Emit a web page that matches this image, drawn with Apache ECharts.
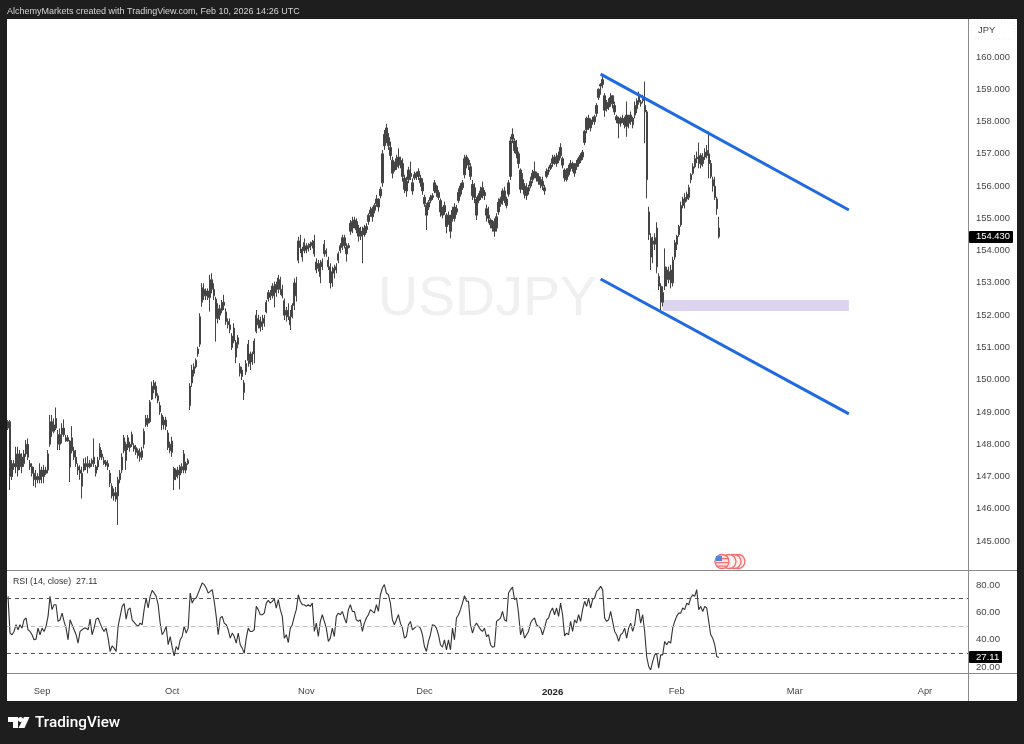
<!DOCTYPE html>
<html><head><meta charset="utf-8">
<style>html,body{margin:0;padding:0;background:#1e1e1e}#c{width:1024px;height:744px}</style>
<script src="https://cdn.jsdelivr.net/npm/echarts@6/dist/echarts.min.js"></script>
</head><body><div id="c"></div>
<script>
const highs=[
148.75,148.75,147.51,147.51,147.92,147.92,147.82,147.72,147.82,148.13,
148.18,147.51,147.41,147.30,147.20,147.10,147.41,147.30,147.36,147.30,
147.82,148.91,148.91,148.80,149.14,148.44,148.49,148.65,148.77,148.29,
148.29,148.13,148.56,147.92,147.82,147.41,147.35,147.30,147.56,147.59,
147.63,147.51,147.56,148.18,147.36,147.61,148.03,147.82,147.61,147.51,
147.51,147.20,146.79,146.63,146.68,146.99,147.20,147.72,148.29,148.08,
148.29,148.08,148.39,148.03,147.98,147.87,147.87,147.92,148.49,148.91,
148.91,149.37,149.94,149.99,149.94,149.58,149.32,148.96,148.85,148.85,
148.44,148.08,148.23,147.30,147.25,147.30,147.36,147.41,147.82,147.46,
147.56,149.89,150.46,150.51,150.66,151.02,152.06,152.99,152.99,152.83,
152.83,153.25,153.30,152.99,152.57,152.37,152.32,152.47,152.63,152.21,
151.90,151.90,151.44,151.75,151.23,151.39,150.51,150.40,149.99,150.61,
151.23,150.87,150.87,151.28,152.16,152.01,151.95,152.01,152.01,152.47,
152.78,152.78,152.99,153.04,153.04,153.25,153.19,152.94,152.52,152.26,
152.37,152.16,152.37,153.14,153.19,154.43,154.49,154.12,154.38,154.23,
154.23,154.28,154.33,154.49,153.76,153.71,153.71,153.76,154.33,154.07,
153.81,153.61,153.50,153.56,153.61,153.97,154.23,154.49,154.49,154.23,
154.23,154.95,155.05,155.05,155.00,154.80,154.74,154.74,154.80,154.85,
155.16,155.36,155.36,155.47,155.73,155.62,155.98,157.12,157.74,157.93,
157.64,157.38,156.91,156.76,156.97,157.17,156.91,156.86,156.35,156.29,
156.60,156.76,156.24,156.45,156.45,156.55,156.35,156.24,155.73,155.47,
155.57,155.73,155.78,156.19,156.04,155.88,155.62,155.36,155.52,155.16,
155.21,155.11,155.36,155.47,155.42,155.93,156.09,156.19,156.97,156.97,
156.86,156.71,156.19,156.09,155.67,155.78,155.98,156.14,155.88,155.42,
155.36,155.00,154.95,155.00,155.16,155.62,155.67,155.93,155.98,155.67,
156.19,157.53,157.79,157.48,157.43,157.07,156.55,156.40,156.09,156.09,
156.04,156.29,156.50,156.76,156.45,156.40,156.29,156.29,156.04,156.55,
156.60,156.71,156.97,156.97,157.02,157.07,157.33,156.91,156.55,156.55,
156.66,156.81,156.76,156.71,156.81,156.91,157.02,157.12,157.74,158.15,
158.21,158.10,158.15,158.21,158.57,159.03,159.19,159.45,158.88,158.67,
158.72,158.88,158.72,158.62,158.21,158.15,158.15,158.21,158.15,158.62,
158.21,158.31,158.15,158.62,158.72,158.93,158.67,158.83,159.24,158.36,
155.36,154.54,154.43,154.54,154.88,153.30,152.99,152.89,154.07,153.50,
153.50,153.56,153.81,154.33,154.49,154.80,155.52,155.67,155.78,155.83,
156.04,156.40,156.71,156.97,157.07,157.35,157.02,157.02,157.17,157.27,
157.69,156.81,156.29,156.29,155.67,155.05];
const lows=[
148.44,146.58,146.89,147.20,147.10,147.00,147.20,147.10,147.30,147.61,
147.51,147.20,147.00,146.70,146.66,146.79,146.79,146.79,146.79,147.05,
147.10,147.92,148.23,148.34,148.44,147.82,147.82,148.03,148.23,148.08,
148.08,146.83,147.72,147.51,147.30,147.05,146.90,146.32,147.15,147.20,
147.10,147.25,147.30,147.30,147.00,147.20,147.51,147.51,147.36,147.30,
147.20,146.68,146.32,146.25,146.22,145.50,146.79,147.10,147.72,147.20,
147.82,147.77,147.92,147.77,147.67,147.56,147.46,147.51,147.87,148.54,
148.54,148.65,149.37,149.58,149.42,149.27,148.91,148.44,148.46,148.44,
147.82,147.72,147.61,146.58,146.89,146.94,146.60,147.10,147.10,147.10,
147.36,149.06,149.78,150.10,150.35,150.71,151.02,152.26,152.47,152.47,
152.47,152.11,152.68,152.47,151.18,151.75,151.85,152.06,152.16,151.70,
151.59,151.44,150.92,151.13,150.51,150.97,150.10,149.99,149.37,150.15,
150.40,150.30,150.46,150.51,151.44,151.59,151.49,151.54,151.64,152.06,
152.42,152.47,152.52,152.24,152.57,152.68,152.63,152.52,151.85,151.80,
151.85,151.54,151.90,152.16,152.42,153.61,153.92,153.66,153.92,153.92,
153.97,154.02,154.07,153.81,153.30,153.35,152.99,153.40,153.81,153.81,
153.40,152.83,152.88,153.14,153.30,153.61,153.92,154.02,154.07,153.66,
154.07,154.49,154.54,154.69,154.54,154.28,154.33,153.61,154.43,154.54,
154.80,155.05,154.90,155.16,155.36,155.21,155.62,155.98,157.12,157.33,
157.12,156.81,156.24,156.45,156.50,156.55,156.55,156.14,155.78,155.67,
156.09,156.19,155.73,156.19,156.19,156.19,155.98,155.73,155.36,154.64,
155.26,155.47,155.57,155.78,155.67,155.57,155.05,155.00,155.11,154.54,
154.80,154.38,154.90,154.90,155.11,155.47,155.67,155.88,156.24,156.55,
156.50,156.19,155.57,155.47,154.95,155.47,155.57,155.62,155.57,154.90,
154.85,154.69,154.59,154.43,154.59,155.11,155.36,155.42,155.47,155.31,
155.67,156.19,157.33,157.02,156.86,156.55,155.78,155.88,155.62,155.57,
155.73,155.93,156.09,156.24,156.14,156.04,155.93,155.88,155.73,156.24,
156.35,156.50,156.60,156.66,156.60,156.71,156.86,156.55,156.14,156.14,
156.29,156.45,156.45,156.29,156.50,156.60,156.71,156.81,157.27,157.64,
157.74,157.69,157.90,157.90,158.15,158.67,158.83,159.03,158.15,158.31,
158.36,158.46,158.41,158.21,157.95,157.48,157.84,157.95,157.79,157.53,
157.79,157.90,157.79,158.10,158.26,158.52,158.46,158.57,157.33,155.62,
154.33,153.40,153.61,154.02,153.30,152.78,152.16,152.27,152.78,152.89,
152.99,152.83,152.89,153.71,154.02,154.43,154.74,155.31,155.31,155.52,
155.57,156.09,156.35,156.55,156.71,156.55,156.55,156.60,156.81,156.86,
156.24,156.24,155.83,155.57,155.11,154.38];
const opens=[
148.5,148.7,147.0,147.3,147.3,147.7,147.3,147.6,147.4,147.7,
148.0,147.4,147.3,147.1,146.9,147.0,146.9,147.2,147.0,147.1,
147.2,148.0,148.7,148.4,148.5,148.3,148.0,148.3,148.5,148.2,
148.1,148.1,147.8,147.8,147.6,147.3,147.2,147.1,147.2,147.4,
147.3,147.3,147.4,147.4,147.3,147.3,147.6,147.7,147.5,147.45,
147.4,147.1,146.7,146.4,146.5,146.4,146.9,147.2,147.8,148.0,
147.9,148.0,148.0,147.95,147.9,147.8,147.6,147.6,148.0,148.6,
148.8,148.7,149.4,149.7,149.8,149.5,149.2,148.9,148.6,148.75,
148.35,148.0,147.75,147.25,147.0,147.2,147.05,147.3,147.2,147.4,
147.4,149.2,149.9,150.2,150.4,150.8,151.1,152.4,152.8,152.6,
152.75,152.55,153.1,152.8,152.5,151.9,152.2,152.15,152.4,152.1,
151.8,151.7,151.35,151.2,151.15,151.1,150.4,150.3,149.9,150.25,
150.6,150.8,150.55,150.8,151.5,151.9,151.6,151.8,151.75,152.1,
152.5,152.7,152.6,152.9,152.7,152.8,153.1,152.8,152.45,152.0,
152.15,151.95,151.95,152.3,153.0,153.7,154.3,154.05,154.0,154.15,
154.05,154.1,154.15,154.3,153.65,153.45,153.6,153.5,153.9,154.0,
153.7,153.5,153.0,153.3,153.4,153.7,154.0,154.1,154.4,154.1,
154.1,154.6,154.9,154.8,154.9,154.7,154.45,154.6,154.5,154.65,
154.9,155.15,155.3,155.25,155.45,155.6,155.7,156.1,157.25,157.5,
157.5,157.2,156.8,156.5,156.6,156.7,156.8,156.7,156.25,155.85,
156.2,156.3,156.1,156.25,156.4,156.3,156.25,156.1,155.65,155.4,
155.35,155.55,155.65,155.85,156.0,155.8,155.55,155.1,155.2,155.1,
154.9,155.0,155.0,155.0,155.2,155.55,155.75,155.95,156.35,156.9,
156.8,156.6,156.05,155.95,155.6,155.55,155.65,155.75,155.8,155.3,
155.0,154.95,154.7,154.6,154.7,155.2,155.6,155.55,155.85,155.6,
155.75,156.3,157.45,157.4,157.0,157.0,156.5,156.0,156.0,155.7,
155.95,156.0,156.2,156.35,156.4,156.15,156.2,156.0,155.95,156.3,
156.45,156.55,156.7,156.9,156.7,156.8,156.95,156.85,156.5,156.2,
156.35,156.55,156.7,156.4,156.6,156.7,156.8,156.9,157.35,157.75,
158.1,157.8,158.05,158.0,158.25,158.75,159.1,159.15,158.8,158.4,
158.45,158.55,158.8,158.5,158.15,157.95,158.1,158.0,158.05,157.85,
158.15,158.0,158.1,158.2,158.4,158.6,158.6,158.65,158.5,158.3,
155.2,154.4,154.2,154.4,154.7,153.2,152.9,152.4,152.9,153.4,
153.1,153.4,153.0,153.8,154.2,154.5,154.8,155.4,155.65,155.6,
155.65,156.2,156.4,156.6,156.85,156.7,156.95,156.7,156.9,157.1,
157.0,156.7,156.2,156.0,155.6,154.7];
const closes=[
148.7,147.0,147.4,147.4,147.7,147.2,147.7,147.3,147.7,148.0,
147.6,147.3,147.1,146.9,147.0,146.9,147.2,147.0,147.2,147.2,
147.7,148.7,148.4,148.6,148.8,148.0,148.3,148.5,148.3,148.1,
148.2,147.3,148.2,147.6,147.4,147.2,147.1,146.7,147.4,147.3,
147.4,147.4,147.5,147.6,147.1,147.5,147.9,147.6,147.4,147.35,
147.3,146.8,146.4,146.5,146.3,146.9,147.1,147.6,148.2,147.5,
148.2,147.9,148.3,147.85,147.75,147.65,147.75,147.8,148.4,148.8,
148.65,149.3,149.8,149.9,149.5,149.35,149.0,148.6,148.75,148.55,
147.9,147.8,148.1,146.9,147.2,147.05,147.3,147.2,147.7,147.2,
147.5,149.8,150.3,150.4,150.6,150.95,151.95,152.85,152.6,152.75,
152.55,153.1,152.8,152.6,151.9,152.2,152.0,152.4,152.3,151.8,
151.7,151.55,151.0,151.6,150.7,151.3,150.2,150.1,149.6,150.5,
151.1,150.5,150.8,151.2,152.0,151.7,151.85,151.65,151.9,152.4,
152.7,152.55,152.9,152.6,152.95,153.15,152.8,152.6,152.0,152.15,
151.95,151.7,152.3,153.0,152.6,154.3,154.1,153.8,154.25,154.0,
154.15,154.2,154.25,153.9,153.4,153.6,153.2,153.65,154.2,153.9,
153.5,153.0,153.35,153.45,153.5,153.9,154.15,154.4,154.15,153.9,
154.15,154.85,154.7,154.95,154.65,154.45,154.6,154.5,154.7,154.75,
155.1,155.25,155.05,155.4,155.6,155.35,155.9,157.0,157.6,157.8,
157.25,156.95,156.4,156.7,156.85,156.9,156.65,156.3,155.9,156.15,
156.5,156.4,155.85,156.35,156.3,156.45,156.1,155.85,155.45,155.1,
155.5,155.65,155.7,156.1,155.8,155.65,155.2,155.25,155.4,154.75,
155.1,154.6,155.25,155.35,155.3,155.8,156.0,156.1,156.85,156.7,
156.65,156.3,155.7,155.65,155.1,155.7,155.85,155.95,155.7,155.1,
155.1,154.8,154.85,154.9,155.05,155.5,155.45,155.85,155.6,155.4,
156.1,157.4,157.6,157.1,157.2,156.7,155.9,156.2,155.75,155.95,
155.85,156.15,156.4,156.45,156.25,156.3,156.05,156.15,155.85,156.45,
156.5,156.65,156.85,156.75,156.9,156.95,157.2,156.65,156.25,156.4,
156.55,156.7,156.55,156.6,156.7,156.85,156.95,157.05,157.7,158.1,
157.85,158.0,158.0,158.15,158.5,159.0,159.15,159.3,158.35,158.55,
158.6,158.75,158.55,158.3,158.05,158.05,157.95,158.1,157.9,158.2,
157.95,158.2,157.9,158.5,158.65,158.85,158.55,158.75,158.3,156.2,
154.5,153.8,154.3,154.2,153.5,152.9,152.4,152.7,153.5,153.1,
153.35,153.0,153.7,154.25,154.45,154.75,155.4,155.6,155.5,155.75,
155.95,156.35,156.6,156.85,156.9,156.95,156.65,156.9,157.05,156.95,
156.7,156.3,156.0,155.65,155.3,154.43];
const rsi=[
71.7,44.9,43.7,46.1,51.0,47.3,51.0,48.5,54.6,55.9,
47.3,46.1,43.7,40.0,40.5,48.5,43.7,48.5,46.1,49.8,
57.1,71.7,62.0,65.6,65.6,53.4,54.6,59.5,53.4,48.5,
40.0,54.6,51.0,47.3,43.7,37.6,46.1,47.3,48.5,48.5,
47.3,55.1,43.7,48.5,55.1,55.9,52.2,48.5,46.1,48.5,
41.2,31.5,35.6,33.9,31.5,49.8,57.1,64.4,66.4,55.1,
62.0,63.2,54.6,52.7,51.0,49.8,52.2,51.0,62.0,70.5,
63.2,71.7,76.1,74.1,71.7,65.6,52.2,43.7,46.1,49.8,
36.4,42.4,34.6,28.3,35.1,32.7,40.0,42.4,49.8,44.9,
48.5,74.1,66.8,69.8,70.5,74.1,77.8,81.5,80.3,77.8,
74.1,75.4,76.6,68.1,57.1,43.7,55.9,57.1,52.2,51.0,
47.3,41.2,44.9,42.4,37.6,44.9,36.4,33.9,30.2,41.2,
48.5,46.1,46.1,47.3,64.4,62.0,58.3,58.3,59.5,66.8,
68.8,66.8,68.1,69.8,63.2,69.3,62.0,57.1,41.2,43.7,
38.0,48.5,51.0,57.1,62.0,72.9,68.1,65.6,65.6,64.4,
65.6,64.4,66.8,46.1,52.2,42.4,53.4,58.3,53.4,48.5,
38.8,41.2,48.5,42.4,57.1,59.5,58.3,60.7,55.9,52.2,
62.0,65.6,60.7,60.7,54.6,53.4,54.6,46.1,52.2,55.9,
58.3,62.0,60.7,59.5,65.6,60.7,72.9,77.8,80.3,74.1,
72.9,66.8,54.6,51.0,54.6,58.3,52.2,48.5,41.2,42.4,
51.0,53.4,47.3,48.5,49.8,49.8,48.5,43.7,35.1,31.5,
38.8,43.7,51.0,50.5,48.5,43.7,36.4,34.6,40.0,32.7,
40.0,32.7,48.5,40.0,55.9,58.3,62.0,66.8,72.2,68.1,
68.1,51.0,44.9,49.8,52.2,49.8,47.3,46.1,48.5,42.4,
43.7,36.4,34.6,35.1,53.4,54.6,55.9,60.7,54.6,53.4,
74.1,76.6,78.5,69.3,70.5,59.5,43.7,48.5,41.2,43.7,
46.1,52.2,54.6,55.9,51.0,49.8,48.5,43.7,48.5,54.6,
55.9,60.7,63.2,58.3,63.2,57.1,66.8,58.3,42.9,44.9,
43.7,53.4,46.1,54.6,52.2,58.3,53.4,62.0,68.1,64.4,
70.5,63.2,69.3,70.5,75.4,76.6,79.0,76.6,55.9,53.4,
54.6,60.7,53.4,46.1,43.7,38.8,43.7,44.9,48.5,41.2,
48.5,52.2,46.1,51.0,62.0,62.0,52.2,58.3,46.1,27.8,
20.5,18.0,24.1,29.0,29.8,19.3,29.0,29.0,38.8,36.4,
38.8,37.6,48.5,53.4,57.1,59.5,59.5,63.2,62.0,66.8,
65.6,70.5,72.9,71.7,76.6,62.0,64.4,60.7,64.4,63.2,
53.4,43.7,41.2,36.4,27.8,27.11];
const slotCount=480;
const monthLabels=['Sep','Oct','Nov','Dec','2026','Feb','Mar','Apr'];
const monthSlots=[17,82,149,208,272,334,393,458];
const priceTicks=[145,146,147,148,149,150,151,152,153,154,155,156,157,158,159,160];
const rsiTicks=[20,40,60,80];
const upperLine=[[296,159.47],[420,155.26]];
const lowerLine=[[295.5,153.12],[420,148.94]];
const bandSlots=[326.5,420];
const bandPrices=[152.47,152.13];
const lastPrice=154.43,lastRsi=27.11;

const cats=Array.from({length:slotCount},(_,i)=>{const k=monthSlots.indexOf(i);return k>=0?monthLabels[k]:''+'\u200b'+i;});
const candles=highs.map((h,i)=>[opens[i],closes[i],lows[i],h]);
const FONT='"Liberation Sans",Arial,sans-serif';
const dark='#444';
const chart=echarts.init(document.getElementById('c'),null,{renderer:'canvas'});
chart.setOption({
 animation:false,backgroundColor:'#1e1e1e',
 grid:[
  {left:7,width:961,top:18.3,height:551.8,containLabel:false},
  {left:7,width:961,top:571.3,height:102.75,containLabel:false}],
 xAxis:[
  {type:'category',gridIndex:0,data:cats,show:false},
  {type:'category',gridIndex:1,data:cats,axisTick:{show:false},axisLine:{show:false},splitLine:{show:false},
   axisLabel:{interval:0,margin:13,fontFamily:FONT,fontSize:9.3,color:'#444',
    formatter:v=>monthLabels.includes(v)?(v==='2026'?'{b|2026}':v):'',
    rich:{b:{fontWeight:'bold',fontFamily:FONT,fontSize:9.6,color:'#222'}}}}],
 yAxis:[
  {type:'value',gridIndex:0,position:'right',min:144.1,max:161.2,interval:0.1,scale:true,
   axisLine:{show:false},axisTick:{show:false},splitLine:{show:false},
   axisLabel:{margin:8,fontFamily:FONT,fontSize:9.4,color:'#444',
    formatter:v=>{const r=Math.round(v);return Math.abs(v-r)<1e-6&&priceTicks.includes(r)?r.toFixed(3):'';}}},
  {type:'value',gridIndex:1,position:'right',min:15,max:90,interval:5,
   axisLine:{show:false},axisTick:{show:false},splitLine:{show:false},
   axisLabel:{margin:8,fontFamily:FONT,fontSize:9.6,color:'#444',
    formatter:v=>rsiTicks.includes(v)?v.toFixed(2):''}}],
 series:[
  {type:'candlestick',name:'USDJPY',xAxisIndex:0,yAxisIndex:0,data:candles,barWidth:1.8,z:3,large:false,progressive:0,
   itemStyle:{color:dark,color0:dark,borderColor:dark,borderColor0:dark,borderWidth:1}},
  {type:'line',name:'Upper channel',xAxisIndex:0,yAxisIndex:0,data:upperLine,showSymbol:false,symbol:'none',z:5,
   lineStyle:{color:'#1f6ae0',width:3}},
  {type:'line',name:'Lower channel',xAxisIndex:0,yAxisIndex:0,data:lowerLine,showSymbol:false,symbol:'none',z:5,
   lineStyle:{color:'#1f6ae0',width:3},
   markArea:{silent:true,itemStyle:{color:'#dcd4ee'},z:1,
    data:[[{coord:[bandSlots[0],bandPrices[0]]},{coord:[bandSlots[1],bandPrices[1]]}]]}},
  {type:'line',name:'RSI',xAxisIndex:1,yAxisIndex:1,data:rsi,showSymbol:false,symbol:'none',z:4,
   lineStyle:{color:'#333',width:1.1},
   markLine:{silent:true,symbol:'none',label:{show:false},animation:false,
    data:[
     {yAxis:70,lineStyle:{color:'#555',type:[4,4],width:1}},
     {yAxis:50,lineStyle:{color:'#bbb',type:[4,4],width:1}},
     {yAxis:30,lineStyle:{color:'#555',type:[4,4],width:1}}]}}
 ]
});
const yP=chart.convertToPixel({yAxisIndex:0},lastPrice);
const yR=chart.convertToPixel({yAxisIndex:1},lastRsi);
const sep='#8a8a8a';
const flag=(cx,cy,full)=>({type:'circle',z:60,shape:{cx,cy,r:7},style:{fill:full?'#ffe3e3':'#fff0f0',stroke:'#f26d6d',lineWidth:1.4}});
chart.setOption({graphic:[
 {type:'rect',z:-5,shape:{x:7,y:19,width:1010,height:682},style:{fill:'#fff'}},
 {type:'text',z:60,x:7,y:7,style:{text:'AlchemyMarkets created with TradingView.com, Feb 10, 2026 14:26 UTC',fill:'#d4d4d4',font:'9px '+FONT}},
 {type:'text',z:-1,x:378,y:272,style:{text:'USDJPY',fill:'#f0f0f0',font:'55.5px '+FONT}},
 {type:'line',z:60,shape:{x1:7,y1:570.5,x2:1017,y2:570.5},style:{stroke:sep,lineWidth:1}},
 {type:'line',z:60,shape:{x1:7,y1:673.5,x2:1017,y2:673.5},style:{stroke:sep,lineWidth:1}},
 {type:'line',z:60,shape:{x1:968.5,y1:19,x2:968.5,y2:701},style:{stroke:sep,lineWidth:1}},
 {type:'rect',z:60,shape:{x:971,y:23,width:44,height:16,r:3},style:{fill:'none',stroke:'#eee',lineWidth:1,lineDash:[1,2]}},
 {type:'text',z:60,x:978,y:26,style:{text:'JPY',fill:'#444',font:'9.4px '+FONT}},
 {type:'rect',z:70,shape:{x:969,y:Math.round(yP)-6,width:44,height:12,r:1},style:{fill:'#000'}},
 {type:'text',z:71,x:976,y:Math.round(yP)-5,style:{text:lastPrice.toFixed(3),fill:'#fff',font:'9.4px '+FONT}},
 {type:'rect',z:70,shape:{x:969,y:Math.round(yR)-6,width:33,height:12,r:1},style:{fill:'#000'}},
 {type:'text',z:71,x:976,y:Math.round(yR)-5,style:{text:lastRsi.toFixed(2),fill:'#fff',font:'9.6px '+FONT}},
 {type:'text',z:60,x:13,y:577,style:{text:'RSI (14, close)  27.11',fill:'#333',font:'8.8px '+FONT}},
 flag(738,561.5,false),flag(734,561.5,false),flag(729,561.5,false),flag(722,561.5,true),
 {type:'rect',z:61,shape:{x:716,y:556,width:6,height:5},style:{fill:'#4f86d9'}},
 {type:'rect',z:61,shape:{x:722,y:558,width:6,height:1.2},style:{fill:'#f26d6d'}},
 {type:'rect',z:61,shape:{x:716,y:562,width:12,height:1.2},style:{fill:'#f26d6d'}},
 {type:'rect',z:61,shape:{x:717,y:565.5,width:10,height:1.2},style:{fill:'#f26d6d'}},
 {type:'polygon',z:60,shape:{points:[[8,717],[18,717],[18,728],[13,728],[13,722],[8,722]]},style:{fill:'#fff'}},
 {type:'circle',z:60,shape:{cx:20.5,cy:719.5,r:2.5},style:{fill:'#fff'}},
 {type:'polygon',z:60,shape:{points:[[24,717],[29.5,717],[24.5,728],[18.5,728]]},style:{fill:'#fff'}},
 {type:'text',z:60,x:35,y:716,style:{text:'TradingView',fill:'#fff',font:'500 15.3px Roboto,'+FONT}}
]});
</script></body></html>
